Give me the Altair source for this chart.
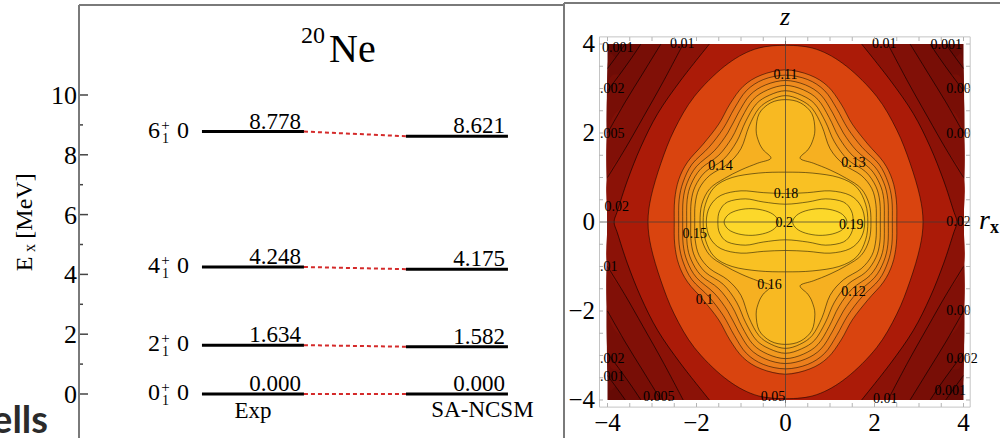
import altair as alt
import pandas as pd

FONT = "Liberation Serif"

# ---------------- level scheme of 20Ne ----------------
spins = ["0", "2", "4", "6"]
exp_energy = [0.000, 1.634, 4.248, 8.778]
ncsm_energy = [0.000, 1.582, 4.175, 8.621]
exp_text = ["0.000", "1.634", "4.248", "8.778"]
ncsm_text = ["0.000", "1.582", "4.175", "8.621"]
column_names = ["Exp", "SA-NCSM"]
column_pos = [0.5, 2.75]
column_base = [-0.80, -0.76]
energy_ticks_major = [0, 2, 4, 6, 8, 10]
energy_tick_labels = ["0", "2", "4", "6", "8", "10"]
energy_ticks_minor = [1, 3, 5, 7, 9]

# ---------------- density contours: first quadrant (r_x >= 0, z >= 0) ----------------
levels = ["0.001", "0.002", "0.005", "0.01", "0.02", "0.05", "0.1", "0.11", "0.12",
          "0.13", "0.14", "0.15", "0.16", "0.17", "0.18", "0.19", "0.2"]
band_colors = ["#6f0c06", "#780e06", "#811007", "#8b1207", "#ab1b08", "#d9440f",
               "#e8701a", "#ec7f1c", "#ef8c1e", "#f2991f", "#f4a520", "#f6b021",
               "#f8b922", "#f9c123", "#fac824", "#fbcf26", "#fcd82a"]
outside_color = "#660a05"
orients = ["h"] * 14 + ["v", "v", "oval"]
contour_x = [
    [4.0, 3.8, 3.6],
    [4.0, 3.7, 3.45, 3.25],
    [4.0, 3.6, 3.2, 2.8],
    [4.0, 3.6, 3.2, 2.75, 2.3],
    [3.85, 3.77, 3.55, 3.25, 2.87, 2.35, 1.71],
    [3.09, 3.02, 2.8, 2.5, 2.05, 1.37, 0.7, 0.0],
    [2.5, 2.49, 2.4, 2.2, 1.85, 1.5, 1.25, 0.95, 0.55, 0.0],
    [2.4, 2.39, 2.3, 2.1, 1.72, 1.4, 1.15, 0.88, 0.5, 0.0],
    [2.31, 2.3, 2.21, 2.0, 1.6, 1.3, 1.06, 0.8, 0.45, 0.0],
    [2.22, 2.21, 2.12, 1.9, 1.5, 1.2, 0.98, 0.73, 0.4, 0.0],
    [2.13, 2.12, 2.03, 1.8, 1.4, 1.1, 0.9, 0.66, 0.36, 0.0],
    [2.04, 2.03, 1.94, 1.7, 1.3, 1.0, 0.82, 0.6, 0.32, 0.0],
    [1.92, 1.88, 1.7, 1.37, 1.0, 0.63, 0.33, 0.5, 0.6, 0.66, 0.59, 0.33, 0.0],
    [1.85, 1.8, 1.6, 1.2, 0.6, 0.0],
    [0.0, 0.5, 1.0, 1.45, 1.7, 1.78],
    [0.0, 0.5, 0.9, 1.3, 1.48, 1.52],
    [0.16, 0.25, 0.45, 0.75, 1.05, 1.28, 1.38],
]
contour_z = [
    [3.45, 3.72, 4.0],
    [2.95, 3.35, 3.7, 4.0],
    [2.0, 2.7, 3.35, 4.0],
    [1.0, 1.65, 2.35, 3.15, 4.0],
    [0.0, 0.27, 0.94, 1.69, 2.44, 3.19, 4.0],
    [0.0, 0.57, 1.32, 2.07, 2.82, 3.5, 3.88, 3.97],
    [0.0, 0.5, 0.95, 1.35, 1.75, 2.2, 2.65, 3.05, 3.3, 3.42],
    [0.0, 0.5, 0.9, 1.3, 1.68, 2.1, 2.55, 2.95, 3.2, 3.3],
    [0.0, 0.5, 0.88, 1.25, 1.6, 2.0, 2.45, 2.85, 3.08, 3.18],
    [0.0, 0.5, 0.85, 1.2, 1.5, 1.9, 2.35, 2.75, 2.97, 3.07],
    [0.0, 0.45, 0.8, 1.13, 1.4, 1.8, 2.25, 2.65, 2.85, 2.95],
    [0.0, 0.4, 0.75, 1.05, 1.3, 1.65, 2.15, 2.55, 2.75, 2.84],
    [0.0, 0.4, 0.75, 0.98, 1.17, 1.32, 1.43, 1.62, 1.8, 2.07, 2.44, 2.68, 2.75],
    [0.0, 0.4, 0.78, 1.0, 1.1, 1.12],
    [0.64, 0.66, 0.7, 0.6, 0.35, 0.0],
    [0.4, 0.45, 0.52, 0.45, 0.25, 0.0],
    [0.0, 0.15, 0.25, 0.3, 0.27, 0.17, 0.0],
]

# contour labels as they appear (partly cut at the frame)
clabel_text = ["0.001", "0.01", "0.01", "0.001", "0.11", "0.14", "0.13", "0.18", "0.2",
               "0.19", "0.15", "0.16", "0.12", "0.1", "0.005", "0.05", "0.01", "0.001", "0.02"]
clabel_x = [-3.77, -2.32, 2.22, 3.61, 0.0, -1.46, 1.53, 0.01, -0.03,
            1.48, -2.04, -0.36, 1.53, -1.82, -2.85, -0.28, 2.24, 3.7, -3.79]
clabel_z = [3.9, 4.0, 4.0, 3.97, 3.31, 1.26, 1.33, 0.64, -0.02,
            -0.07, -0.27, -1.42, -1.57, -1.76, -3.93, -3.93, -3.98, -3.8, 0.34]
edge_left_text = [".002", ".005", ".01", ".002", ".001"]
edge_left_z = [3.0, 1.98, -1.0, -3.07, -3.48]
edge_right_text = ["0.00", "0.00", "0.02", "0.00", "0.002"]
edge_right_z = [3.0, 1.98, 0.0, -1.99, -3.07]
frame_ticks = [-4 + 0.5 * i for i in range(17)]
axis_ticks = [-4, -2, 0, 2, 4]
axis_tick_labels = ["\u22124", "\u22122", "0", "2", "4"]

# ---------------- scales (pixel-aligned) ----------------
xL = alt.Scale(domain=[-1.980, 7.824], nice=False, zero=False)
yL = alt.Scale(domain=[-1.4716, 13.177], nice=False, zero=False)
xR = alt.Scale(domain=[-17.652, 4.820], nice=False, zero=False)
yR = alt.Scale(domain=[-4.854, 4.989], nice=False, zero=False)

one = alt.Data(values=[{"a": 0}])


def txt(text, x, y, size, align="center", baseline="alphabetic", angle=0, style="normal",
        weight="normal", font=FONT, color="black"):
    return alt.Chart(one).mark_text(font=font, fontSize=size, align=align, baseline=baseline,
                                    angle=angle, fontStyle=style, fontWeight=weight,
                                    color=color).encode(
        x=alt.value(x), y=alt.value(y), text=alt.value(text))


# ---------------- left panel ----------------
lev_df = pd.DataFrame({
    "x0": [0] * 4 + [2] * 4, "x1": [1] * 4 + [3] * 4,
    "E": exp_energy + ncsm_energy, "label": exp_text + ncsm_text})
conn_df = pd.DataFrame({"x0": [1] * 4, "x1": [2] * 4, "E1": exp_energy, "E2": ncsm_energy})
st_df = pd.DataFrame({"spin": spins, "E": exp_energy, "x": [0] * 4,
                      "plus": ["+"] * 4, "sub": ["1"] * 4, "T": ["0"] * 4})
col_df = pd.DataFrame({"name": column_names, "pos": column_pos, "E": column_base})
tmaj = pd.DataFrame({"t": energy_ticks_major, "lab": energy_tick_labels})
tmin = pd.DataFrame({"t": energy_ticks_minor})

lvl = alt.Chart(lev_df).mark_rule(color="black", strokeWidth=3).encode(
    x=alt.X("x0:Q", scale=xL, axis=None), x2="x1:Q",
    y=alt.Y("E:Q", scale=yL, axis=None))
conn = alt.Chart(conn_df).mark_rule(color="#d42a2a", strokeWidth=2, strokeDash=[4, 3]).encode(
    x=alt.X("x0:Q", scale=xL, axis=None), x2="x1:Q",
    y=alt.Y("E1:Q", scale=yL, axis=None), y2="E2:Q")
vals = alt.Chart(lev_df).mark_text(align="right", baseline="alphabetic", dx=-3, dy=-3,
                                   font=FONT, fontSize=23, color="black").encode(
    x=alt.X("x1:Q", scale=xL, axis=None), y=alt.Y("E:Q", scale=yL, axis=None), text="label:N")


def st_layer(field, align, dx, dy, size):
    return alt.Chart(st_df).mark_text(align=align, baseline="middle", dx=dx, dy=dy,
                                      font=FONT, fontSize=size, color="black").encode(
        x=alt.X("x:Q", scale=xL, axis=None), y=alt.Y("E:Q", scale=yL, axis=None),
        text=f"{field}:N")


st_main = st_layer("spin", "right", -42, -1, 24)
st_plus = st_layer("plus", "center", -36.5, -7, 15)
st_sub = st_layer("sub", "center", -36.5, 7, 14)
st_T = st_layer("T", "left", -25, -1, 24)
cols = alt.Chart(col_df).mark_text(baseline="alphabetic", font=FONT, fontSize=23,
                                   color="black").encode(
    x=alt.X("pos:Q", scale=xL, axis=None), y=alt.Y("E:Q", scale=yL, axis=None), text="name:N")
tick_major = alt.Chart(tmaj).mark_rule(color="#444", strokeWidth=1.5).encode(
    y=alt.Y("t:Q", scale=yL, axis=None), x=alt.value(79), x2=alt.value(88))
tick_minor = alt.Chart(tmin).mark_rule(color="#444", strokeWidth=1.5).encode(
    y=alt.Y("t:Q", scale=yL, axis=None), x=alt.value(79), x2=alt.value(83))
tick_lab = alt.Chart(tmaj).mark_text(font=FONT, fontSize=26, align="right", baseline="middle",
                                     color="black", dy=1).encode(
    y=alt.Y("t:Q", scale=yL, axis=None), x=alt.value(77), text="lab:N")

ytitle_E = txt("E", 32, 264, 24, angle=270)
ytitle_x = txt("x", 35, 248, 16, angle=270)
ytitle_u = txt("[MeV]", 32, 206, 24, angle=270)

title20 = txt("20", 301, 43, 24, align="left")
titleNe = txt("Ne", 329, 62, 40, align="left")
ells = txt("ells", 48, 433, 38, align="right", font="Lato", color="#2b2b2b", weight="bold")
border_style = dict(color="#7a7a7a", strokeWidth=2)
b1 = alt.Chart(one).mark_rule(**border_style).encode(x=alt.value(79), x2=alt.value(564), y=alt.value(5))
b2 = alt.Chart(one).mark_rule(**border_style).encode(x=alt.value(79), y=alt.value(5), y2=alt.value(438))
b3 = alt.Chart(one).mark_rule(**border_style).encode(x=alt.value(564), y=alt.value(3), y2=alt.value(438))
b4 = alt.Chart(one).mark_rule(**border_style).encode(x=alt.value(564), x2=alt.value(1000), y=alt.value(3))

left = alt.layer(lvl, conn, vals, st_main, st_plus, st_sub, st_T, cols, tick_major, tick_minor,
                 tick_lab, ytitle_E, ytitle_x, ytitle_u, title20, titleNe, ells, b1, b2, b3, b4)


# ---------------- right panel ----------------
def mirror_h(xs, zs):
    pts = list(zip(xs, zs))
    if pts[0][1] > 0:
        pts = [(4.0, 0.0)] + pts
    rows = [(-z, x) for x, z in reversed(pts) if z > 0] + [(z, x) for x, z in pts]
    return pd.DataFrame({"z": [r[0] for r in rows], "xl": [-r[1] for r in rows],
                         "xr": [r[1] for r in rows]})


def mirror_v(xs, zs):
    pts = list(zip(xs, zs))
    rows = [(-x, z) for x, z in reversed(pts) if x > 0] + [(x, z) for x, z in pts]
    return pd.DataFrame({"x": [r[0] for r in rows], "zl": [-r[1] for r in rows],
                         "zu": [r[1] for r in rows]})


base = alt.Chart(pd.DataFrame({"x0": [-4], "x1": [4], "z0": [-4], "z1": [4]})).mark_rect(
    color=outside_color).encode(
    x=alt.X("x0:Q", scale=xR, axis=None), x2="x1:Q",
    y=alt.Y("z0:Q", scale=yR, axis=None), y2="z1:Q")

right_layers = [base]
loops, opens = [], []
for i, lev in enumerate(levels):
    xs, zs, o, col = contour_x[i], contour_z[i], orients[i], band_colors[i]
    pts = list(zip(xs, zs))
    if o == "h":
        df = mirror_h(xs, zs)
        right_layers.append(alt.Chart(df).mark_area(orient="horizontal", color=col,
                                                     interpolate="cardinal").encode(
            y=alt.Y("z:Q", scale=yR, axis=None), x=alt.X("xl:Q", scale=xR, axis=None), x2="xr:Q"))
        start_axis = pts[0][1] == 0
        end_axis = pts[-1][0] == 0
        rarc = [(x, -z) for x, z in reversed(pts)] + [(x, z) for x, z in pts[1:]] if start_axis else None
        if start_axis and end_axis:
            loop = rarc + [(-x, z) for x, z in reversed(rarc[1:-1])]
            loops.append((lev, loop))
        elif start_axis:
            opens.append((lev + "r", rarc))
            opens.append((lev + "l", [(-x, z) for x, z in rarc]))
        else:
            for sx in (1, -1):
                for sz in (1, -1):
                    opens.append((f"{lev}{sx}{sz}", [(sx * x, sz * z) for x, z in pts]))
    elif o == "v":
        df = mirror_v(xs, zs)
        right_layers.append(alt.Chart(df).mark_area(orient="vertical", color=col,
                                                     interpolate="cardinal").encode(
            x=alt.X("x:Q", scale=xR, axis=None), y=alt.Y("zl:Q", scale=yR, axis=None), y2="zu:Q"))
        loop = pts + [(x, -z) for x, z in reversed(pts[:-1])]
        loop = loop + [(-x, z) for x, z in reversed(loop[1:-1])]
        loops.append((lev, loop))
    else:
        for sx in (1, -1):
            df = pd.DataFrame({"x": [sx * x for x in xs], "zl": [-z for z in zs], "zu": zs})
            right_layers.append(alt.Chart(df).mark_area(orient="vertical", color=col,
                                                         interpolate="cardinal").encode(
                x=alt.X("x:Q", scale=xR, axis=None), y=alt.Y("zl:Q", scale=yR, axis=None),
                y2="zu:Q"))
            loop = [(sx * x, z) for x, z in pts] + [(sx * x, -z) for x, z in reversed(pts[1:-1])]
            loops.append((f"{lev}{sx}", loop))


def seg_df(segs):
    rows = []
    for name, pts in segs:
        for k, (x, z) in enumerate(pts):
            rows.append({"seg": name, "ord": k, "x": x, "z": z})
    return pd.DataFrame(rows)


right_layers.append(alt.Chart(seg_df(loops)).mark_line(
    interpolate="cardinal-closed", color="black", opacity=0.5, strokeWidth=1).encode(
    x=alt.X("x:Q", scale=xR, axis=None), y=alt.Y("z:Q", scale=yR, axis=None),
    detail="seg:N", order="ord:Q"))
right_layers.append(alt.Chart(seg_df(opens)).mark_line(
    interpolate="cardinal", color="black", opacity=0.6, strokeWidth=1).encode(
    x=alt.X("x:Q", scale=xR, axis=None), y=alt.Y("z:Q", scale=yR, axis=None),
    detail="seg:N", order="ord:Q"))

# axes through the origin
ax_df = pd.DataFrame({"a0": [-4.18, 0.0], "a1": [4.15, 0.0], "b0": [0.0, -4.16], "b1": [0.0, 4.16]})
right_layers.append(alt.Chart(ax_df).mark_rule(color="#3a3a3a", opacity=0.7, strokeWidth=1).encode(
    x=alt.X("a0:Q", scale=xR, axis=None), x2="a1:Q",
    y=alt.Y("b0:Q", scale=yR, axis=None), y2="b1:Q"))

# contour labels
lab_df = pd.DataFrame({"t": clabel_text, "x": clabel_x, "z": clabel_z})
right_layers.append(alt.Chart(lab_df).mark_text(font=FONT, fontSize=14, color="black",
                                                baseline="middle").encode(
    x=alt.X("x:Q", scale=xR, axis=None), y=alt.Y("z:Q", scale=yR, axis=None), text="t:N"))
el_df = pd.DataFrame({"t": edge_left_text, "z": edge_left_z, "x": [-4.17] * 5})
right_layers.append(alt.Chart(el_df).mark_text(font=FONT, fontSize=14, color="black",
                                               baseline="middle", align="left").encode(
    x=alt.X("x:Q", scale=xR, axis=None), y=alt.Y("z:Q", scale=yR, axis=None), text="t:N"))
er_df = pd.DataFrame({"t": edge_right_text, "z": edge_right_z, "x": [3.61] * 5})
right_layers.append(alt.Chart(er_df).mark_text(font=FONT, fontSize=14, color="black",
                                               baseline="middle", align="left").encode(
    x=alt.X("x:Q", scale=xR, axis=None), y=alt.Y("z:Q", scale=yR, axis=None), text="t:N"))

# frame, frame ticks and tick labels
right_layers.append(alt.Chart(pd.DataFrame({"x0": [-4.18], "x1": [4.15], "z0": [-4.16], "z1": [4.16]}))
                    .mark_rect(fill=None, stroke="#c4c4c4", strokeWidth=1).encode(
    x=alt.X("x0:Q", scale=xR, axis=None), x2="x1:Q",
    y=alt.Y("z0:Q", scale=yR, axis=None), y2="z1:Q"))
ft = pd.DataFrame({"t": frame_ticks})
tick_style = dict(color="#b4b4b4", strokeWidth=1)
right_layers.append(alt.Chart(ft).mark_rule(**tick_style).encode(
    x=alt.X("t:Q", scale=xR, axis=None), y=alt.value(407), y2=alt.value(403)))
right_layers.append(alt.Chart(ft).mark_rule(**tick_style).encode(
    x=alt.X("t:Q", scale=xR, axis=None), y=alt.value(37), y2=alt.value(41)))
right_layers.append(alt.Chart(ft).mark_rule(**tick_style).encode(
    y=alt.Y("t:Q", scale=yR, axis=None), x=alt.value(599), x2=alt.value(603)))
right_layers.append(alt.Chart(ft).mark_rule(**tick_style).encode(
    y=alt.Y("t:Q", scale=yR, axis=None), x=alt.value(970), x2=alt.value(966)))
at_df = pd.DataFrame({"t": axis_ticks, "lab": axis_tick_labels})
right_layers.append(alt.Chart(at_df).mark_text(font=FONT, fontSize=25, color="black",
                                               align="center", baseline="middle").encode(
    x=alt.X("t:Q", scale=xR, axis=None), y=alt.value(423), text="lab:N"))
right_layers.append(alt.Chart(at_df).mark_text(font=FONT, fontSize=25, color="black",
                                               align="right", baseline="middle").encode(
    y=alt.Y("t:Q", scale=yR, axis=None), x=alt.value(595), text="lab:N"))

# axis names
right_layers.append(txt("z", 785, 25, 26, style="italic"))
right_layers.append(txt("r", 979, 229, 28, align="left", style="italic"))
right_layers.append(txt("x", 990, 233, 18, align="left", weight="bold"))

right = alt.layer(*right_layers)

chart = alt.layer(left, right).resolve_scale(x="independent", y="independent").properties(
    width=1000, height=438, padding=0, autosize=alt.AutoSizeParams(type="none"),
    background="white"
).configure_view(stroke=None)

chart.save("out.html", embed_options={"renderer": "svg", "actions": False})
